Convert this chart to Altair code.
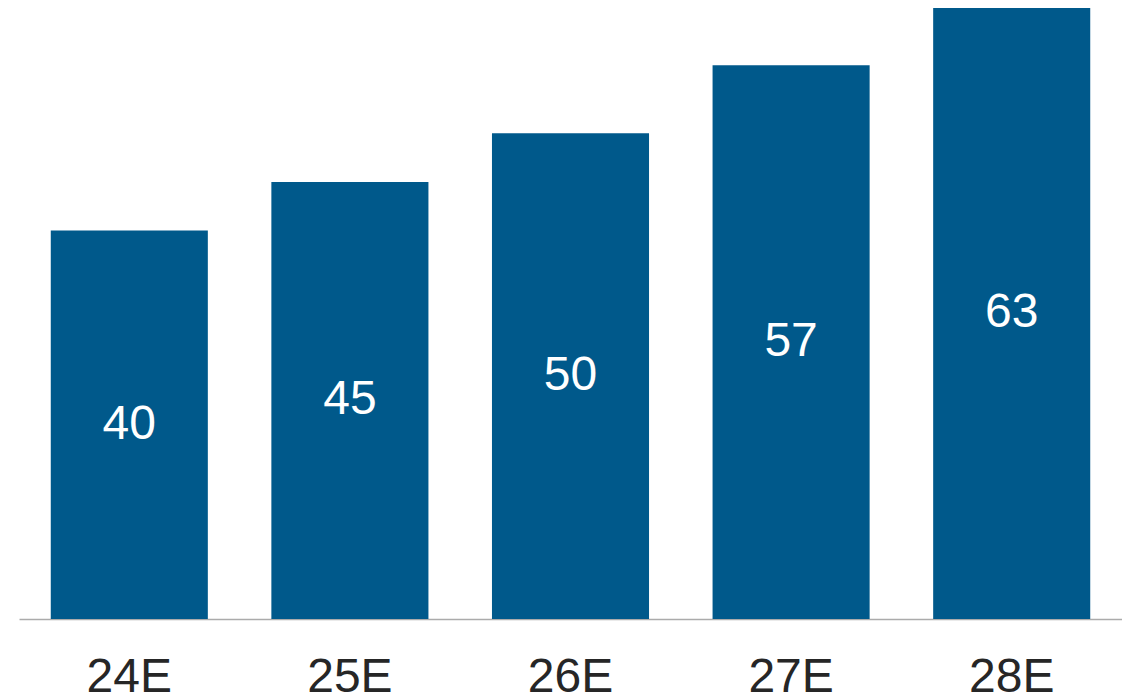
import altair as alt
import pandas as pd

categories = ["24E", "25E", "26E", "27E", "28E"]
values = [40, 45, 50, 57, 63]

df = pd.DataFrame({"cat": categories, "val": values})
df["mid"] = df["val"] / 2

FONT = "Liberation Sans"
YMAX = 62.9

x = alt.X("cat:N", sort=categories, title=None,
          scale=alt.Scale(paddingInner=0.288, paddingOuter=0.144),
          axis=alt.Axis(labelAngle=0, labelFontSize=48, labelFont=FONT,
                        labelColor="#262626", ticks=False, labelPadding=34,
                        domainColor="#ababab", domainWidth=1.5, grid=False))

bars = alt.Chart(df).mark_bar(color="#00598B").encode(
    x=x,
    y=alt.Y("val:Q", title=None, axis=None,
            scale=alt.Scale(domain=[0, YMAX], nice=False, zero=True)),
)

labels = alt.Chart(df).mark_text(color="white", fontSize=48, font=FONT,
                                 baseline="middle").encode(
    x=alt.X("cat:N", sort=categories),
    y=alt.Y("mid:Q", scale=alt.Scale(domain=[0, YMAX], nice=False)),
    text=alt.Text("val:Q"),
)

chart = alt.layer(bars, labels).properties(
    width=1103, height=611,
    background="white",
    autosize=alt.AutoSizeParams(type="none"),
    padding={"left": 11, "top": 0, "right": 0, "bottom": 76},
).configure_view(stroke=None)

chart.save("out.html", embed_options={"renderer": "svg", "actions": False})
